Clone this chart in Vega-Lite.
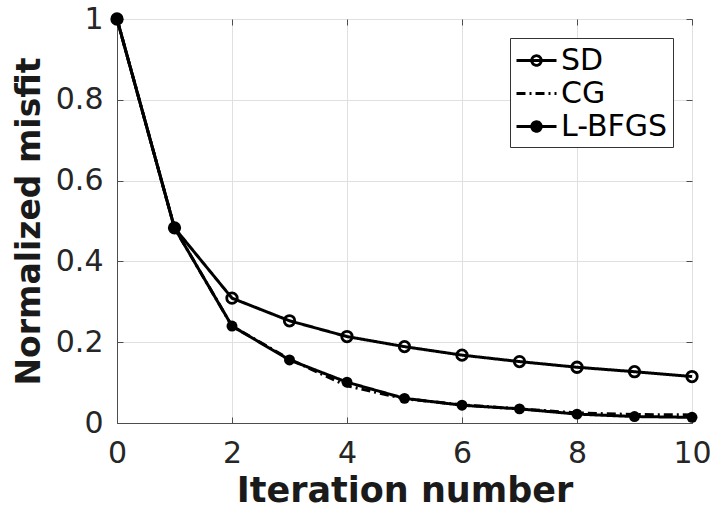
{
  "$schema": "https://vega.github.io/schema/vega-lite/v6.json",
  "width": 575,
  "height": 404,
  "autosize": {"type": "none"},
  "padding": {"left": 117, "top": 19, "right": 20, "bottom": 85},
  "background": "white",
  "config": {
    "font": "DejaVu Sans",
    "view": {"stroke": "#4d4d4d", "strokeWidth": 1},
    "axis": {
      "labelFont": "DejaVu Sans",
      "labelFontSize": 30,
      "labelColor": "#262626",
      "titleFont": "DejaVu Sans",
      "titleFontWeight": "bold",
      "titleColor": "#1a1a1a",
      "domainColor": "#4d4d4d",
      "tickColor": "#4d4d4d",
      "gridColor": "#e0e0e0",
      "tickSize": -6,
      "labelFlush": false
    }
  },
  "data": {
    "values": [
      {"method": "SD", "iter": 0, "misfit": 1},
      {"method": "SD", "iter": 1, "misfit": 0.483},
      {"method": "SD", "iter": 2, "misfit": 0.309},
      {"method": "SD", "iter": 3, "misfit": 0.253},
      {"method": "SD", "iter": 4, "misfit": 0.214},
      {"method": "SD", "iter": 5, "misfit": 0.189},
      {"method": "SD", "iter": 6, "misfit": 0.168},
      {"method": "SD", "iter": 7, "misfit": 0.152},
      {"method": "SD", "iter": 8, "misfit": 0.138},
      {"method": "SD", "iter": 9, "misfit": 0.127},
      {"method": "SD", "iter": 10, "misfit": 0.115},
      {"method": "CG", "iter": 0, "misfit": 1},
      {"method": "CG", "iter": 1, "misfit": 0.483},
      {"method": "CG", "iter": 2, "misfit": 0.24},
      {"method": "CG", "iter": 3, "misfit": 0.158},
      {"method": "CG", "iter": 4, "misfit": 0.092},
      {"method": "CG", "iter": 5, "misfit": 0.06},
      {"method": "CG", "iter": 6, "misfit": 0.045},
      {"method": "CG", "iter": 7, "misfit": 0.035},
      {"method": "CG", "iter": 8, "misfit": 0.025},
      {"method": "CG", "iter": 9, "misfit": 0.021},
      {"method": "CG", "iter": 10, "misfit": 0.02},
      {"method": "L-BFGS", "iter": 0, "misfit": 1},
      {"method": "L-BFGS", "iter": 1, "misfit": 0.483},
      {"method": "L-BFGS", "iter": 2, "misfit": 0.24},
      {"method": "L-BFGS", "iter": 3, "misfit": 0.156},
      {"method": "L-BFGS", "iter": 4, "misfit": 0.101},
      {"method": "L-BFGS", "iter": 5, "misfit": 0.061},
      {"method": "L-BFGS", "iter": 6, "misfit": 0.044},
      {"method": "L-BFGS", "iter": 7, "misfit": 0.035},
      {"method": "L-BFGS", "iter": 8, "misfit": 0.022},
      {"method": "L-BFGS", "iter": 9, "misfit": 0.016},
      {"method": "L-BFGS", "iter": 10, "misfit": 0.014}
    ]
  },
  "layer": [
    {
      "mark": {"type": "line", "strokeWidth": 3, "color": "black"},
      "encoding": {
        "x": {
          "field": "iter", "type": "quantitative",
          "scale": {"domain": [0, 10], "nice": false},
          "axis": {"values": [0, 2, 4, 6, 8, 10], "title": "Iteration number", "titleFontSize": 35, "labelPadding": 21, "titlePadding": 5, "grid": true}
        },
        "y": {
          "field": "misfit", "type": "quantitative",
          "scale": {"domain": [0, 1], "nice": false},
          "axis": {"values": [0, 0.2, 0.4, 0.6, 0.8, 1], "format": "~g", "title": "Normalized misfit", "titleFontSize": 33, "labelPadding": 20, "titlePadding": 9, "grid": true}
        },
        "strokeDash": {
          "field": "method", "type": "nominal",
          "scale": {"domain": ["SD", "CG", "L-BFGS"], "range": [[1, 0], [9, 4, 2, 4], [1, 0]]},
          "legend": {
            "title": null,
            "orient": "top-right",
            "offset": 19,
            "symbolSize": 1024,
            "symbolStrokeWidth": 2.8,
            "symbolStrokeColor": "black",
            "symbolOffset": 4,
            "labelFontSize": 30,
            "labelFont": "DejaVu Sans",
            "labelColor": "black",
            "labelOffset": 7,
            "padding": 5,
            "rowPadding": 0,
            "strokeColor": "#333333",
            "fillColor": "white",
            "encode": {
              "symbols": {
                "update": {
                  "shape": {"signal": "datum.value === 'CG' ? 'M-1.25,0H1.25' : datum.value === 'SD' ? 'M-1.25,0H1.25M0.3,0A0.3,0.3,0,1,1,-0.3,0A0.3,0.3,0,1,1,0.3,0' : 'M-1.25,0H1.25M0.3,0A0.3,0.3,0,1,1,-0.3,0A0.3,0.3,0,1,1,0.3,0M0.18,0A0.18,0.18,0,1,1,-0.18,0A0.18,0.18,0,1,1,0.18,0M0.07,0A0.07,0.07,0,1,1,-0.07,0A0.07,0.07,0,1,1,0.07,0'"}
                }
              }
            }
          }
        }
      }
    },
    {
      "transform": [{"filter": "datum.method === 'SD'"}],
      "mark": {"type": "point", "shape": "circle", "filled": false, "stroke": "black", "strokeWidth": 2.8, "size": 110, "opacity": 1},
      "encoding": {
        "x": {"field": "iter", "type": "quantitative", "axis": {"orient": "top", "values": [0, 2, 4, 6, 8, 10], "labels": false, "title": null, "grid": false, "domain": false}},
        "y": {"field": "misfit", "type": "quantitative", "axis": {"orient": "right", "values": [0, 0.2, 0.4, 0.6, 0.8, 1], "labels": false, "title": null, "grid": false, "domain": false}}
      }
    },
    {
      "transform": [{"filter": "datum.method === 'L-BFGS'"}],
      "mark": {"type": "point", "shape": "circle", "filled": true, "color": "black", "size": 120, "opacity": 1},
      "encoding": {
        "x": {"field": "iter", "type": "quantitative", "axis": null},
        "y": {"field": "misfit", "type": "quantitative", "axis": null}
      }
    }
  ],
  "resolve": {"axis": {"x": "independent", "y": "independent"}}
}
